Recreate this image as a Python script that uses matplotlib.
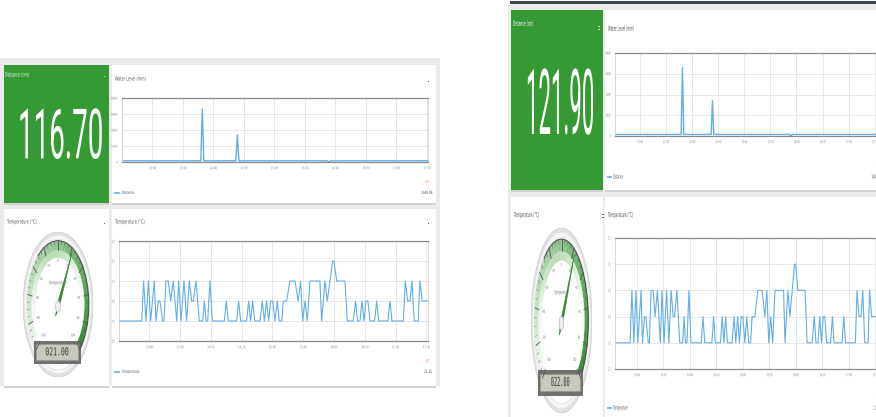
import matplotlib
matplotlib.use("Agg")
import matplotlib.pyplot as plt
import numpy as np
from matplotlib.patches import Rectangle, Circle, Wedge, Polygon, Arc
from matplotlib.patheffects import AbstractPathEffect
from matplotlib.transforms import Affine2D
from matplotlib.colors import to_rgb

W, H = 876, 417

# ---- data, time in minutes after 12:30 ----
tick_minutes = [30, 60, 90, 120, 150, 180, 210, 240, 270, 300]
tick_labels = ["13:00", "13:30", "14:00", "14:30", "15:00",
               "15:30", "16:00", "16:30", "17:00", "17:30"]

water_t = [0, 60, 77.5, 79, 80.5, 112, 113.5, 115, 180, 202, 203.5, 205, 260, 306]
water_mm = [150, 150, 150, 6600, 150, 150, 3400, 150, 150, 150, 20, 150, 150, 150]
water_yticks = [0, 2000, 4000, 6000, 8000]
water_ylabels = ["0", "2000", "4000", "6000", "8000"]

temp_t = [0, 22.6, 24.5, 26.8, 29.1, 31.3, 34.9, 36.5, 38.8, 40.4, 43.0, 44.3,
          46.3, 48.5, 50.8, 53.4, 56.7, 58.6, 60.9, 63.8, 66.4, 69.0, 71.3, 72.9,
          75.5, 78.7, 82.0, 83.6, 85.2, 86.9, 89.1, 91.4, 103.1, 105.0, 107.0,
          115.1, 117.0, 119.0, 124.8, 126.8, 128.7, 130.7, 132.7, 137.9, 140.1,
          142.1, 144.3, 146.3, 148.2, 150.2, 152.4, 154.7, 156.7, 159.0, 160.6,
          163.8, 167.0, 171.9, 175.1, 177.4, 179.4, 181.7, 183.9, 186.5, 196.2,
          197.9, 201.1, 203.4, 206.0, 208.6, 209.9, 212.5, 220.6, 222.9, 228.6,
          231.0, 232.9, 235.2, 237.2, 239.1, 241.1, 243.0, 245.0, 249.5, 251.5,
          253.4, 262.4, 264.4, 266.4, 277.5, 279.4, 281.7, 283.9, 285.9, 288.1,
          292.0, 293.6, 295.9, 299.4, 306]
temp_c = [21.0, 21.0, 22.0, 21.0, 22.0, 21.0, 22.0, 21.0, 21.5, 21.5, 21.0, 21.0,
          22.0, 22.0, 21.5, 22.0, 21.0, 22.0, 21.0, 22.0, 21.0, 22.0, 21.5, 21.5,
          22.0, 21.0, 21.0, 21.5, 21.0, 21.0, 22.0, 21.0, 21.0, 21.5, 21.0,
          21.0, 21.5, 21.0, 21.0, 21.5, 21.0, 21.5, 21.0, 21.0, 21.5,
          21.0, 21.5, 21.0, 21.5, 21.5, 21.0, 21.5, 21.0, 21.0, 21.5,
          21.5, 22.0, 22.0, 21.5, 22.0, 21.0, 21.5, 21.0, 22.0, 22.0,
          21.0, 22.0, 21.5, 22.0, 22.5, 22.5, 22.0, 22.0, 21.0, 21.0,
          21.5, 21.0, 21.0, 21.5, 21.0, 21.5, 21.5, 21.0, 21.0, 21.5,
          21.0, 21.0, 21.5, 21.0, 21.0, 22.0, 21.5, 21.5, 22.0, 21.0,
          21.0, 22.0, 21.5, 21.5, 21.5]
temp_yticks = [20.5, 21, 21.5, 22, 22.5, 23]
temp_ylabels = ["21", "21", "22", "22", "23", "23"]

gauge_ticks = [-100, -80, -60, -40, -20, 0, 20, 40, 60, 80, 100]
distance_cm = ["116.70", "121.90"]
gauge_c = [21.0, 22.0]
gauge_text = ["021.00", "022.00"]
water_last = ["1648.09", "1648.09"]
temp_last = ["21.35", "21.25"]

GREEN = "#359a34"
GREY_BG = "#ebebeb"
LINE_BLUE = "#62aeea"


class Squeeze(AbstractPathEffect):
    # the screenshot is squashed sideways, so squash (or stretch) the glyphs too
    def __init__(self, sx, anchor="left", sy=1.0):
        super().__init__()
        self.sx = sx
        self.sy = sy
        self.anchor = anchor

    def draw_path(self, renderer, gc, tpath, affine, rgbFace=None):
        if len(tpath.vertices) == 0:
            return
        ext = tpath.get_extents()
        if self.anchor == "center":
            cx = (ext.x0 + ext.x1) / 2
        elif self.anchor == "right":
            cx = ext.x1
        else:
            cx = 0
        cy = (ext.y0 + ext.y1) / 2
        t = Affine2D().translate(-cx, -cy).scale(self.sx, self.sy).translate(cx, cy)
        renderer.draw_path(gc, tpath, t + affine, rgbFace)


fig = plt.figure(figsize=(W / 100, H / 100), dpi=100)
fig.patch.set_facecolor("white")
bg = fig.add_axes([0, 0, 1, 1])
bg.set_xlim(0, W)
bg.set_ylim(H, 0)
bg.axis("off")


def px_axes(x0, y0, x1, y1):
    return fig.add_axes([x0 / W, 1 - y1 / H, (x1 - x0) / W, (y1 - y0) / H])


def label(x, y, s, size, sx, color="#555555", ha="left", ax=None, **kw):
    ax = ax or bg
    ax.text(x, y, s, fontsize=size, color=color, ha=ha, va="center",
            path_effects=[Squeeze(sx, ha)], **kw)


def panel(x0, y0, x1, y1, fc="white"):
    bg.add_patch(Rectangle((x0, y0 + 1.5), x1 - x0, y1 - y0, fc="#d2d2d2", ec="none"))
    bg.add_patch(Rectangle((x0, y0), x1 - x0, y1 - y0, fc=fc, ec="none"))


def line_chart(box, t, v, xlim, ylim, yticks, ylabels, fs, sx, lw):
    ax = px_axes(*box)
    ax.plot(t, v, color=LINE_BLUE, lw=lw)
    ax.set_xlim(xlim)
    ax.set_ylim(ylim)
    ax.set_xticks(tick_minutes, tick_labels)
    ax.set_yticks(yticks, ylabels)
    ax.grid(color="#e4e4e4", lw=0.6)
    ax.set_axisbelow(True)
    ax.tick_params(length=0, labelsize=fs, labelcolor="#888888", pad=3)
    for side in ["top", "bottom"]:
        ax.spines[side].set_color("#8a8a8a")
        ax.spines[side].set_linewidth(0.9)
    for side in ["left", "right"]:
        ax.spines[side].set_color("#d0d0d0")
        ax.spines[side].set_linewidth(0.6)
    for lbl in ax.get_xticklabels():
        lbl.set_path_effects([Squeeze(sx, "center")])
    for lbl in ax.get_yticklabels():
        lbl.set_path_effects([Squeeze(sx, "right")])
    return ax


def mix(a, b, f):
    return tuple(np.array(to_rgb(a)) * (1 - f) + np.array(to_rgb(b)) * f)


def ang(v):
    return 90 - 1.35 * v


def gauge(box, value, reading, fs, sx, disp):
    ax = px_axes(*box)
    ax.set_xlim(-1, 1)
    ax.set_ylim(-1, 1)
    ax.axis("off")
    ax.add_patch(Circle((0, 0), 1.0, fc="#e2e2e2", ec="#cccccc", lw=0.5))
    ax.add_patch(Circle((0, 0), 0.95, fc="#f6f6f6", ec="none"))
    ax.add_patch(Circle((0, 0), 0.9, fc="white", ec="#d6d6d6", lw=0.4))
    n = 80
    for i in range(n):
        v0 = -100 + 200 * i / n
        v1 = v0 + 200 / n
        f = i / (n - 1)
        c_out = mix("#f6fbf5", "#2c8f2c", f ** 0.9)
        ax.add_patch(Wedge((0, 0), 0.88, ang(v1), ang(v0), width=0.13,
                           fc=c_out, ec=c_out, lw=0.2))
        g = np.exp(-((v0 + 10) / 45) ** 2)
        c_in = mix("#ffffff", "#b7ddb1", g)
        ax.add_patch(Wedge((0, 0), 0.75, ang(v1), ang(v0), width=0.1,
                           fc=c_in, ec=c_in, lw=0.2))
    ax.add_patch(Arc((0, 0), 1.76, 1.76, theta1=ang(100), theta2=ang(-30),
                     color="#4a4a4a", lw=0.7))
    for v in range(-100, 101, 5):
        a = np.radians(ang(v))
        r0 = 0.75 if v % 20 == 0 else 0.83
        ax.plot([r0 * np.cos(a), 0.88 * np.cos(a)], [r0 * np.sin(a), 0.88 * np.sin(a)],
                color="#555555", lw=0.6 if v % 20 == 0 else 0.3)
    for v in gauge_ticks:
        a = np.radians(ang(v))
        label(0.6 * np.cos(a), 0.6 * np.sin(a), str(v), fs, sx,
              color="#666666", ha="center", ax=ax)
    label(0, 0.3, "Temperature", fs * 1.3, sx, color="#777777", ha="center", ax=ax)
    a = np.radians(ang(value))
    px, py = 0, -0.03
    d = np.array([np.cos(a), np.sin(a)])
    p = np.array([-np.sin(a), np.cos(a)]) * 0.035
    base = np.array([px, py])
    ax.add_patch(Polygon([base + d * 0.86, base + p, base - d * 0.15, base - p],
                         fc="#2e8f2e", ec="#1f6f1f", lw=0.3))
    ax.add_patch(Circle((px, py), 0.075, fc="#f0f0f0", ec="#bdbdbd", lw=0.5))
    x0, x1, y0, y1 = disp
    ax.add_patch(Rectangle((x0 - 0.04, y0 - 0.02), x1 - x0 + 0.08, y1 - y0 + 0.04,
                           fc="#707070", ec="#555555", lw=0.5))
    ax.add_patch(Rectangle((x0 + 0.04, y0 + 0.02), x1 - x0 - 0.08, y1 - y0 - 0.04,
                           fc="#c8c8be", ec="#9a9a90", lw=0.4))
    label((x0 + x1) / 2, (y0 + y1) / 2, reading, fs * 3.0, sx, color="#3c3c3c",
          ha="center", ax=ax, family="DejaVu Sans Mono")
    return ax


# ---- left dashboard ----
bg.add_patch(Rectangle((0, 58), 440, 328, fc=GREY_BG, ec="none"))
panel(4, 65, 109, 203, GREEN)
panel(112, 65, 436, 203)
panel(4, 209, 109, 386)
panel(112, 209, 436, 386)

fsL, sxL = 4.0, 0.62
label(5, 75, "Distance (cm)", fsL, sxL, color="white")
label(104, 75, "::", fsL, sxL, color="#cfe6cf")
label(115, 79, "Water Level (mm)", fsL, sxL)
label(428, 80, "::", fsL, sxL, color="#666666")
label(7, 222, "Temperature (°C)", fsL, sxL)
label(104, 222, "::", fsL, sxL, color="#666666")
label(115, 222, "Temperature (°C)", fsL, sxL)
label(428, 222, "::", fsL, sxL, color="#666666")
# big reading: small font stretched upwards so its box stays inside the panel
bg.text(18, 136, distance_cm[0], fontsize=20, color="white", ha="left", va="center",
        family=["Roboto", "DejaVu Sans"],
        path_effects=[Squeeze(1.0, "left", 2.5)])

line_chart((122, 98, 428, 162), water_t, water_mm, (0, 301), (0, 8000),
           water_yticks, water_ylabels, 2.6, 0.7, 1.0)
bg.plot([115, 119], [193, 193], color=LINE_BLUE, lw=1.2)
label(122, 193, "Distance", 3.2, sxL)
label(430, 182, "ort.", 3.2, sxL, color="#f0805a", ha="right")
label(432, 193, water_last[0], 3.2, sxL, ha="right")

line_chart((119, 241, 428, 341), temp_t, temp_c, (0.5, 301.5), (20.5, 23),
           temp_yticks, temp_ylabels, 2.6, 0.7, 0.8)
bg.plot([115, 119], [372, 372], color=LINE_BLUE, lw=1.2)
label(122, 372, "Temperature", 3.2, sxL)
label(430, 361, "ort.", 3.2, sxL, color="#f0805a", ha="right")
label(432, 372, temp_last[0], 3.2, sxL, ha="right")

gauge((23, 232, 93, 377), gauge_c[0], gauge_text[0], 2.6, 0.6,
      (-0.66, 0.6, -0.79, -0.53))

# ---- right dashboard ----
bg.add_patch(Rectangle((508, 4), 368, 413, fc=GREY_BG, ec="none"))
bg.add_patch(Rectangle((510, 1), 366, 3, fc="#3b474f", ec="none"))
panel(511, 10, 603, 190, GREEN)
panel(605, 10, 880, 190)
panel(511, 197, 603, 420)
panel(605, 197, 880, 420)

fsR, sxR = 5.0, 0.42
label(513, 24, "Distance (cm)", fsR, sxR, color="white")
label(598, 28, "::", fsR, sxR, color="#cfe6cf")
label(608, 29, "Water Level (mm)", fsR, sxR)
label(514, 215, "Temperature (°C)", fsR, sxR)
label(602, 216, "::", fsR, sxR, color="#666666")
label(608, 215, "Temperature (°C)", fsR, sxR)
bg.text(526, 104, distance_cm[1], fontsize=16, color="white", ha="left", va="center",
        family=["Roboto", "DejaVu Sans"],
        path_effects=[Squeeze(1.0, "left", 4.1)])

line_chart((615, 53, 880, 136), water_t, water_mm, (1.5, 306), (0, 8000),
           water_yticks, water_ylabels, 3.0, 0.5, 1.0)
bg.plot([608, 611], [177, 177], color=LINE_BLUE, lw=1.2)
label(613, 177, "Distance", 4.0, sxR)
label(880, 163, "ort.", 4.0, sxR, color="#f0805a", ha="right")
label(881, 177, water_last[1], 4.0, sxR, ha="right")

line_chart((615, 238, 880, 369), temp_t, temp_c, (5.4, 305.4), (20.5, 23),
           temp_yticks, temp_ylabels, 3.0, 0.5, 0.8)
bg.plot([608, 611], [408, 408], color=LINE_BLUE, lw=1.2)
label(613, 408, "Temperature", 4.0, sxR)
label(880, 395, "ort.", 4.0, sxR, color="#f0805a", ha="right")
label(881, 408, temp_last[1], 4.0, sxR, ha="right")

gauge((531, 228, 592, 413), gauge_c[1], gauge_text[1], 3.0, 0.42,
      (-0.73, 0.64, -0.78, -0.56))

fig.savefig("out.png", dpi=100, facecolor="white")
